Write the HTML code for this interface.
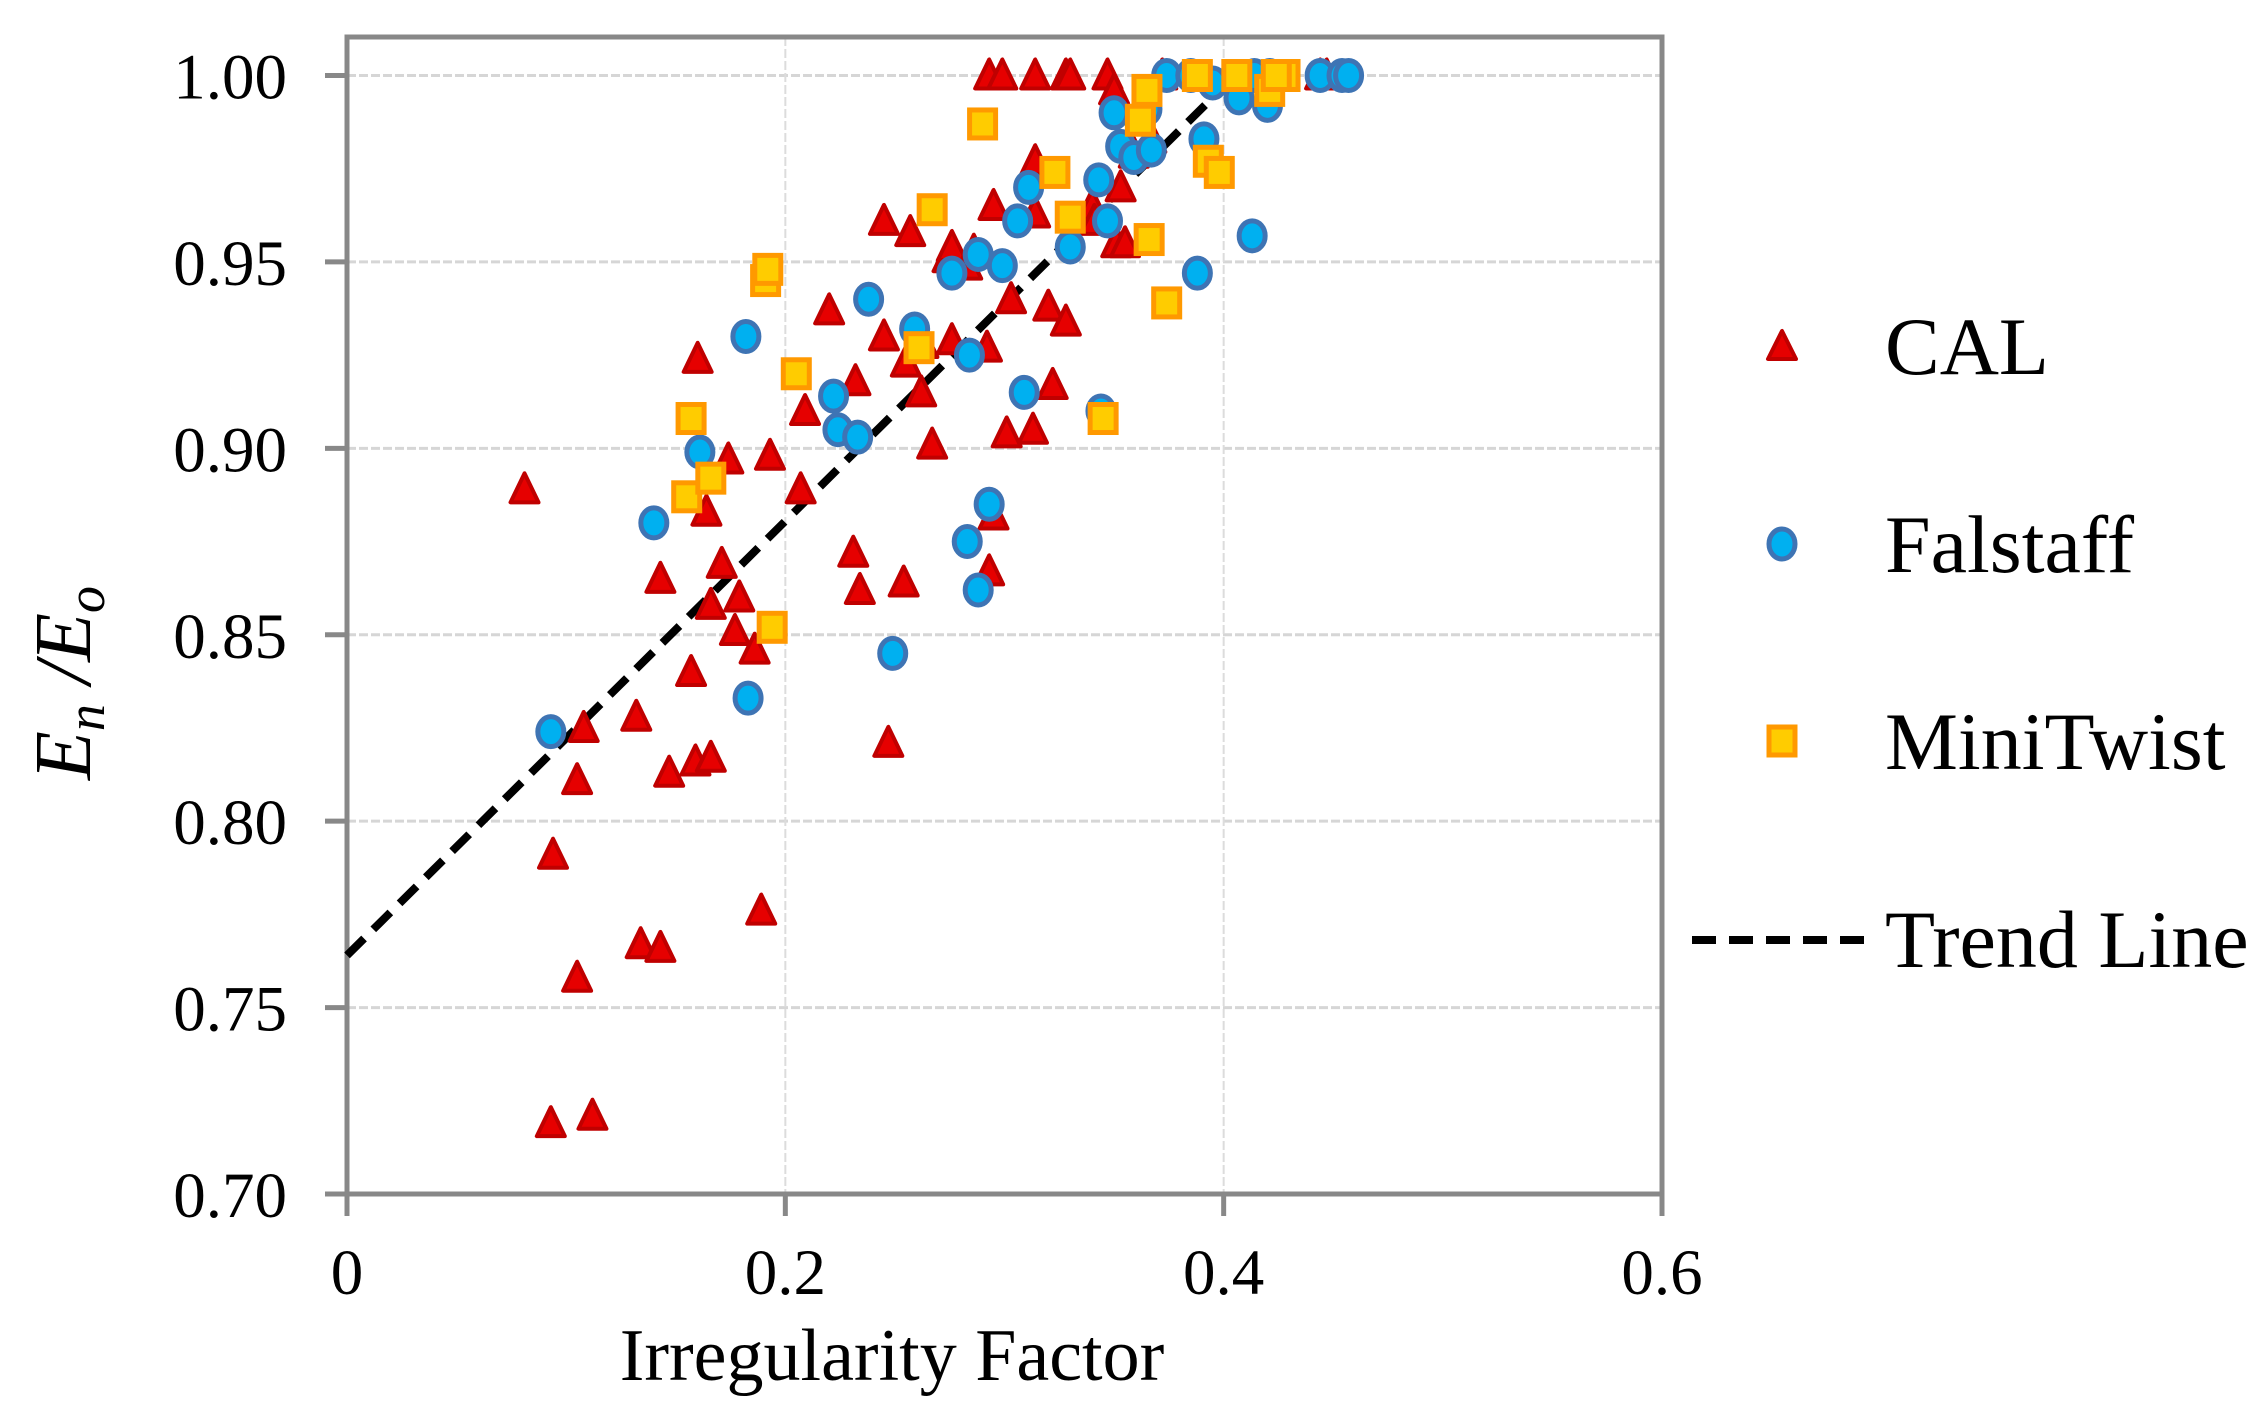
<!DOCTYPE html>
<html><head><meta charset="utf-8"><style>
html,body{margin:0;padding:0;background:#fff;}
svg{display:block;font-family:"Liberation Serif",serif;}
</style></head><body>
<svg id="chart" width="2262" height="1409" viewBox="0 0 2262 1409" xmlns="http://www.w3.org/2000/svg">
<rect x="0" y="0" width="2262" height="1409" fill="#fff"/>
<g id="grid"></g>
<g id="axes"></g>
<line id="trend" stroke="#000" stroke-width="8" stroke-dasharray="24,13"/>
<g id="marks"></g>
<text x="892" y="1380" font-size="74" text-anchor="middle">Irregularity Factor</text>
<text transform="translate(90,683) rotate(-90)" font-size="80" font-style="italic" text-anchor="middle">E<tspan font-size="54" dy="14">n</tspan><tspan dy="-14"> /E</tspan><tspan font-size="54" dy="14">o</tspan></text>
<g>
  <g>
    <polygon points="1782,331 1768,359 1796,359" fill="#e60000" stroke="#c00000" stroke-width="4" stroke-linejoin="round"/>
    <text x="1885" y="374" font-size="82">CAL</text>
  </g>
  <g>
    <ellipse cx="1782" cy="544" rx="13" ry="15" fill="#00b0f0" stroke="#3e74b4" stroke-width="5"/>
    <text x="1885" y="572" font-size="82">Falstaff</text>
  </g>
  <g>
    <rect x="1769" y="727" width="26" height="28" fill="#ffcc00" stroke="#ff9900" stroke-width="5"/>
    <text x="1885" y="769" font-size="82">MiniTwist</text>
  </g>
  <g>
    <line x1="1692" y1="940" x2="1875" y2="940" stroke="#000" stroke-width="8" stroke-dasharray="24,13"/>
    <text x="1885" y="967" font-size="82">Trend Line</text>
  </g>
</g>
</svg>
<script>
const xTicks = [0, 0.2, 0.4, 0.6];
const xTickLabels = ["0", "0.2", "0.4", "0.6"];
const yTicks = [0.70, 0.75, 0.80, 0.85, 0.90, 0.95, 1.00];
const yTickLabels = ["0.70", "0.75", "0.80", "0.85", "0.90", "0.95", "1.00"];
const trendX = [0, 0.40];
const trendY = [0.764, 0.997];
const calX = [.081,.094,.093,.105,.112,.105,.108,.132,.134,.143,.143,.147,.157,.160,.159,.166,.166,.164,.171,.174,.177,.179,.186,.189,.193,.207,.209,.220,.231,.232,.234,.245,.247,.245,.254,.257,.255,.262,.263,.267,.274,.276,.276,.283,.286,.292,.293,.295,.295,.301,.303,.313,.314,.314,.320,.322,.328,.293,.299,.314,.328,.330,.347,.350,.353,.351,.355,.359,.340,.341,.367,.372,.444,.447];
const calY = [.889,.791,.719,.758,.721,.811,.825,.828,.767,.766,.865,.813,.840,.924,.816,.858,.817,.883,.869,.897,.851,.860,.846,.776,.898,.889,.910,.937,.872,.918,.862,.961,.821,.930,.864,.958,.923,.915,.928,.901,.951,.954,.929,.949,.953,.927,.867,.882,.965,.904,.940,.905,.977,.963,.938,.917,.934,1,1,1,1,1,1,.996,.970,.955,.955,.979,.965,.961,.983,1,1,1];
const falX = [.093,.140,.161,.182,.183,.222,.224,.233,.238,.249,.259,.276,.284,.283,.288,.288,.293,.299,.306,.309,.311,.330,.343,.344,.347,.350,.353,.359,.365,.367,.374,.388,.391,.395,.407,.413,.420,.421,.444,.454,.457,.414,.385];
const falY = [.824,.880,.899,.930,.833,.914,.905,.903,.940,.845,.932,.947,.925,.875,.862,.952,.885,.949,.961,.915,.970,.954,.972,.910,.961,.990,.981,.978,.991,.980,1,.947,.983,.998,.994,.957,.992,1,1,1,1,1,1];
const mtX = [.155,.157,.166,.191,.192,.194,.205,.261,.267,.290,.323,.330,.345,.362,.365,.366,.374,.388,.393,.398,.406,.421,.428,.424];
const mtY = [.887,.908,.892,.945,.948,.852,.920,.927,.964,.987,.974,.962,.908,.988,.996,.956,.939,1,.977,.974,1,.996,1,1];

const NS = "http://www.w3.org/2000/svg";
const X0 = 347, X1 = 1662, Y0 = 1194, Y1 = 75.5;
function sx(v){ return X0 + (v - 0) / 0.6 * (X1 - X0); }
function sy(v){ return Y0 - (v - 0.70) / 0.30 * (Y0 - Y1); }
function mk(tag, attrs, parent){ const e = document.createElementNS(NS, tag); for (const k in attrs) e.setAttribute(k, attrs[k]); parent.appendChild(e); return e; }

const grid = document.getElementById('grid');
const axes = document.getElementById('axes');
yTicks.forEach((v, i) => {
  if (i > 0) {
    const g = mk('line', {x1: X0, x2: X1, y1: sy(v), y2: sy(v), stroke: '#d6d6d6', 'stroke-width': 3, 'stroke-dasharray': '9,3'}, grid);
    
    
  }
  const t = mk('line', {x1: X0 - 22, x2: X0, y1: sy(v), y2: sy(v), stroke: '#888', 'stroke-width': 5}, axes);
  
  
  const l = mk('text', {x: 287, y: sy(v) + 23, 'font-size': 65, 'text-anchor': 'end'}, axes);
  l.textContent = yTickLabels[i];
  
  
});
xTicks.forEach((v, i) => {
  if (i > 0 && i < xTicks.length - 1) {
    const g = mk('line', {x1: sx(v), x2: sx(v), y1: 37, y2: Y0, stroke: '#dcdcdc', 'stroke-width': 2, 'stroke-dasharray': '9,3'}, grid);
    
    
  }
  const t = mk('line', {x1: sx(v), x2: sx(v), y1: Y0, y2: Y0 + 22, stroke: '#888', 'stroke-width': 5}, axes);
  
  
  const l = mk('text', {x: sx(v), y: 1294, 'font-size': 65, 'text-anchor': 'middle'}, axes);
  l.textContent = xTickLabels[i];
  
  
});
const frame = mk('rect', {x: X0, y: 37, width: X1 - X0, height: Y0 - 37, fill: 'none', stroke: '#888', 'stroke-width': 5}, axes);



const tr = document.getElementById('trend');
tr.setAttribute('x1', sx(trendX[0])); tr.setAttribute('y1', sy(trendY[0]));
tr.setAttribute('x2', sx(trendX[1])); tr.setAttribute('y2', sy(trendY[1]));

const marks = document.getElementById('marks');
calX.forEach((v, i) => {
  const x = sx(v), y = sy(calY[i]);
  const p = mk('polygon', {points: `${x},${y-16} ${x-14},${y+13} ${x+14},${y+13}`, fill: '#e60000', stroke: '#c00000', 'stroke-width': 4, 'stroke-linejoin': 'round'}, marks);
  
  
});
falX.forEach((v, i) => {
  const c = mk('ellipse', {cx: sx(v), cy: sy(falY[i]), rx: 13, ry: 15, fill: '#00b0f0', stroke: '#3e74b4', 'stroke-width': 5}, marks);
  
  
});
mtX.forEach((v, i) => {
  const r = mk('rect', {x: sx(v) - 13, y: sy(mtY[i]) - 14, width: 26, height: 28, fill: '#ffcc00', stroke: '#ff9900', 'stroke-width': 5}, marks);
  
  
});
</script>
</body></html>
